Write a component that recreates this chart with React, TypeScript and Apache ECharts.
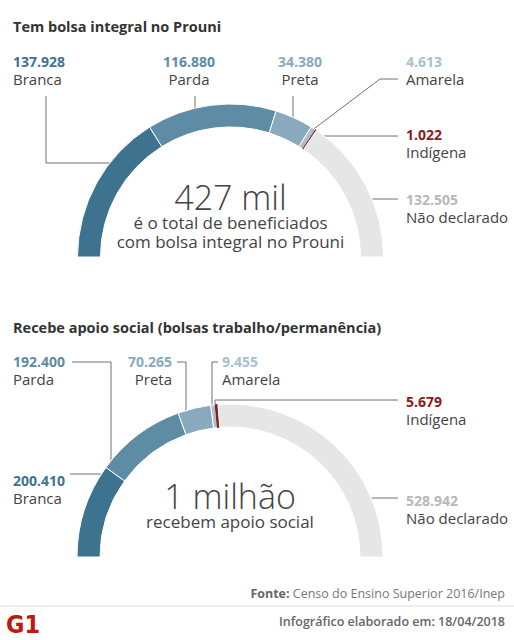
import React, { useEffect, useRef } from 'react';
import * as echarts from 'echarts';

// ---- data ----
const categories = ['Branca', 'Parda', 'Preta', 'Amarela', 'Indígena', 'Não declarado'];
const prouniValues = [137928, 116880, 34380, 4613, 1022, 132505];
const apoioValues = [200410, 192400, 70265, 9455, 5679, 528942];
const titles = ['Tem bolsa integral no Prouni', 'Recebe apoio social (bolsas trabalho/permanência)'];
const totalLabels = ['427 mil', '1 milhão'];
const totalSubtitles = ['é o total de beneficiados\ncom bolsa integral no Prouni', 'recebem apoio social'];
const sourceText = 'Censo do Ensino Superior 2016/Inep';
const dateText = 'Infográfico elaborado em: 18/04/2018';

// ---- styles ----
const sliceColors = ['#3e7390', '#5d8ca4', '#88aabc', '#a9c1ce', '#8b1a1a', '#e6e6e6'];
const valueColors = ['#3e7390', '#5d8ca4', '#88aabc', '#a9c1ce', '#8b1a1a', '#b8b8b8'];
const FONT = '"Open Sans", "Noto Sans", sans-serif';
const CX = [230.5, 230];
const CY = [257, 557];
const R_OUT = 153;
const R_IN = 130;

const fmt = (v: number) => String(v).replace(/\B(?=(\d{3})+(?!\d))/g, '.');

type Geo = { arcX: (y: number, side: number) => number; arcY: (x: number) => number };
const geo = (i: number): Geo => ({
  arcX: (y, side) => CX[i] + side * Math.sqrt(R_OUT * R_OUT - (CY[i] - y) * (CY[i] - y)),
  arcY: (x) => CY[i] - Math.sqrt(R_OUT * R_OUT - (x - CX[i]) * (x - CX[i])),
});

type Spec = { x: number; y: number; align: string; line: (g: Geo) => number[][] };
const labelSpecs: Spec[][] = [
  [
    { x: 13, y: 70, align: 'left', line: (g) => [[46, 96], [46, 163], [g.arcX(163, -1), 163]] },
    { x: 189, y: 70, align: 'center', line: (g) => [[195, 96], [195, g.arcY(195)]] },
    { x: 300, y: 70, align: 'center', line: (g) => [[293, 96], [293, g.arcY(293)]] },
    { x: 406, y: 70, align: 'left', line: (g) => [[398, 79], [380, 79], [314, g.arcY(314)]] },
    { x: 406, y: 143, align: 'left', line: (g) => [[398, 136], [g.arcX(136, 1), 136]] },
    { x: 406, y: 208, align: 'left', line: (g) => [[398, 199], [g.arcX(199, 1), 199]] },
  ],
  [
    { x: 13, y: 489, align: 'left', line: (g) => [[70, 474], [g.arcX(474, -1), 474]] },
    { x: 13, y: 370, align: 'left', line: (g) => [[72, 362], [111, 362], [111, g.arcY(111)]] },
    { x: 172, y: 370, align: 'right', line: (g) => [[177, 362], [186, 362], [186, g.arcY(186)]] },
    { x: 222, y: 370, align: 'left', line: (g) => [[218, 362], [212, 362], [212, g.arcY(212)]] },
    { x: 406, y: 410, align: 'left', line: (g) => [[398, 400], [215, 400], [215, g.arcY(215)]] },
    { x: 406, y: 509, align: 'left', line: (g) => [[398, 498], [g.arcX(498, 1), 498]] },
  ],
];

const rich: any = {
  n: { fontSize: 15, color: '#444', lineHeight: 17, fontFamily: FONT },
};
valueColors.forEach((c, j) => {
  rich['v' + j] = { fontSize: 14, fontWeight: 'bold', color: c, lineHeight: 17, fontFamily: FONT };
});

const makeSeries = (vals: number[], i: number) => ({
  type: 'pie',
  center: [CX[i], CY[i]],
  radius: [R_IN, R_OUT],
  startAngle: 180,
  endAngle: 0,
  silent: true,
  avoidLabelOverlap: false,
  itemStyle: { borderColor: '#ffffff', borderWidth: 1 },
  emphasis: { disabled: true },
  label: {
    show: true,
    position: 'outside',
    width: 140,
    formatter: (p: any) => `{v${p.dataIndex}|${fmt(p.value)}}\n{n|${p.name}}`,
    rich,
  },
  labelLine: { show: true, length: 5, length2: 5, smooth: false, lineStyle: { color: '#707070', width: 1 } },
  labelLayout: (params: any) => {
    const s = labelSpecs[i][params.dataIndex];
    return {
      x: s.x,
      y: s.y,
      align: s.align,
      verticalAlign: 'middle',
      labelLinePoints: s.line(geo(i)),
    };
  },
  data: categories.map((name, j) => ({
    name,
    value: vals[j],
    itemStyle: j === 4 ? { color: sliceColors[j], borderColor: sliceColors[j] } : { color: sliceColors[j] },
  })),
});

export default function App() {
  const ref = useRef<HTMLDivElement>(null);
  useEffect(() => {
    if (!ref.current) return;
    const chart = echarts.init(ref.current, undefined, { renderer: 'svg' });
    const graphic: any[] = [];
    const titleY = [26, 327];
    titles.forEach((t, i) => {
      graphic.push({
        type: 'text', x: 13, y: titleY[i],
        style: { text: t, fontSize: 14.5, fontWeight: 'bold', fontFamily: FONT, fill: '#333', align: 'left', verticalAlign: 'middle' },
      });
    });
    const totY = [197, 496];
    const subY = [231.5, 521];
    totalLabels.forEach((t, i) => {
      graphic.push({
        type: 'text', x: CX[i], y: totY[i],
        style: { text: t, fontSize: 34, lineHeight: 28, fontWeight: 300, fontFamily: FONT, fill: '#444', align: 'center', verticalAlign: 'middle' },
      });
      graphic.push({
        type: 'text', x: CX[i], y: subY[i],
        style: { text: totalSubtitles[i], fontSize: 17, lineHeight: 19, fontFamily: FONT, fill: '#444', align: 'center', verticalAlign: 'middle' },
      });
    });
    graphic.push({
      type: 'text', x: 505, y: 593,
      style: {
        text: '{b|Fonte:} ' + sourceText,
        fontSize: 12.5, fontFamily: FONT, fill: '#777', align: 'right', verticalAlign: 'middle',
        rich: { b: { fontSize: 12.5, fontWeight: 'bold', fontFamily: FONT, fill: '#666' } },
      },
    });
    graphic.push({
      type: 'line', shape: { x1: 0, y1: 606, x2: 514, y2: 606 },
      style: { stroke: '#dddddd', lineWidth: 1 },
    });
    graphic.push({
      type: 'text', x: 505, y: 621,
      style: { text: dateText, fontSize: 12.5, fontWeight: 600, fontFamily: FONT, fill: '#666', align: 'right', verticalAlign: 'middle' },
    });
    graphic.push({
      type: 'text', x: 6, y: 624,
      style: { text: 'G1', fontSize: 25, fontWeight: 'bold', fontFamily: '"DejaVu Sans Condensed", "DejaVu Sans", sans-serif', fill: '#c4170c', align: 'left', verticalAlign: 'middle' },
    });

    chart.setOption({
      animation: false,
      backgroundColor: '#ffffff',
      textStyle: { fontFamily: FONT },
      series: [makeSeries(prouniValues, 0), makeSeries(apoioValues, 1)],
      graphic,
    });
    return () => chart.dispose();
  }, []);
  return <div ref={ref} style={{ position: 'absolute', left: 0, top: 0, width: 514, height: 640 }} />;
}
